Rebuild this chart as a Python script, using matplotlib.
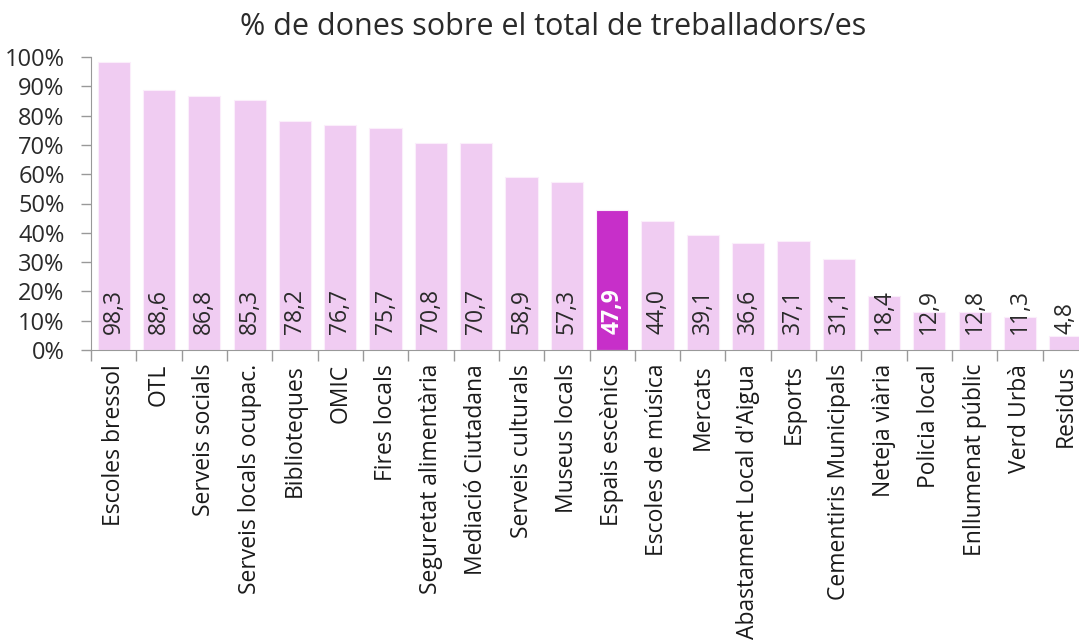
import matplotlib
matplotlib.use('Agg')
import matplotlib.pyplot as plt
import numpy as np
from matplotlib.ticker import PercentFormatter

categories = ['Escoles bressol', 'OTL', 'Serveis socials', 'Serveis locals ocupac.',
              'Biblioteques', 'OMIC', 'Fires locals', 'Seguretat alimentària',
              'Mediació Ciutadana', 'Serveis culturals', 'Museus locals', 'Espais escènics',
              'Escoles de música', 'Mercats', "Abastament Local d'Aigua", 'Esports',
              'Cementiris Municipals', 'Neteja viària', 'Policia local', 'Enllumenat públic',
              'Verd Urbà', 'Residus']
values = [98.3, 88.6, 86.8, 85.3, 78.2, 76.7, 75.7, 70.8, 70.7, 58.9, 57.3, 47.9,
          44.0, 39.1, 36.6, 37.1, 31.1, 18.4, 12.9, 12.8, 11.3, 4.8]
highlight = 'Espais escènics'

plt.rcParams['font.family'] = ['Open Sans', 'DejaVu Sans']

fig = plt.figure(figsize=(10.79, 6.43), dpi=100)
ax = fig.add_axes([91 / 1079, 1 - 350 / 643, 997 / 1079, 293 / 643])

x = np.arange(len(categories))
colors = ['#c72fc9' if c == highlight else '#f0ccf2' for c in categories]
ax.bar(x, values, width=0.71, color=colors, edgecolor='#fbeefb', linewidth=0.8)

# value labels near the bottom of each bar
for xi, v, c in zip(x, values, categories):
    if c == highlight:
        ax.text(xi, 5.4, f'{v:.1f}'.replace('.', ','), rotation=90, ha='center', va='bottom',
                fontsize=16.5, color='white', fontweight='bold')
    else:
        ax.text(xi, 5.4, f'{v:.1f}'.replace('.', ','), rotation=90, ha='center', va='bottom',
                fontsize=16.5, color='#2a2a2a')

ax.set_xlim(-0.5, len(categories) - 0.5)
ax.set_ylim(0, 100)
ax.set_yticks(np.arange(0, 101, 10))
ax.yaxis.set_major_formatter(PercentFormatter(decimals=0))
ax.set_xticks(x)
ax.set_xticklabels(categories, rotation=90, fontsize=16.5, color='#1a1a1a')
ax.set_xticks(np.arange(-0.5, len(categories), 1), minor=True)
ax.tick_params(axis='x', which='major', length=0, pad=10)
ax.tick_params(axis='x', which='minor', length=8, color='#999999', width=1)
ax.tick_params(axis='y', length=7, color='#999999', width=1, labelsize=17, labelcolor='#2a2a2a', pad=12)

for s in ['top', 'right']:
    ax.spines[s].set_visible(False)
ax.spines['left'].set_color('#999999')
ax.spines['bottom'].set_color('#999999')

fig.text(0.513, 1 - 27 / 643, '% de dones sobre el total de treballadors/es',
         ha='center', va='center', fontsize=22, color='#2a2a2a')

fig.savefig('out.png', dpi=100)
